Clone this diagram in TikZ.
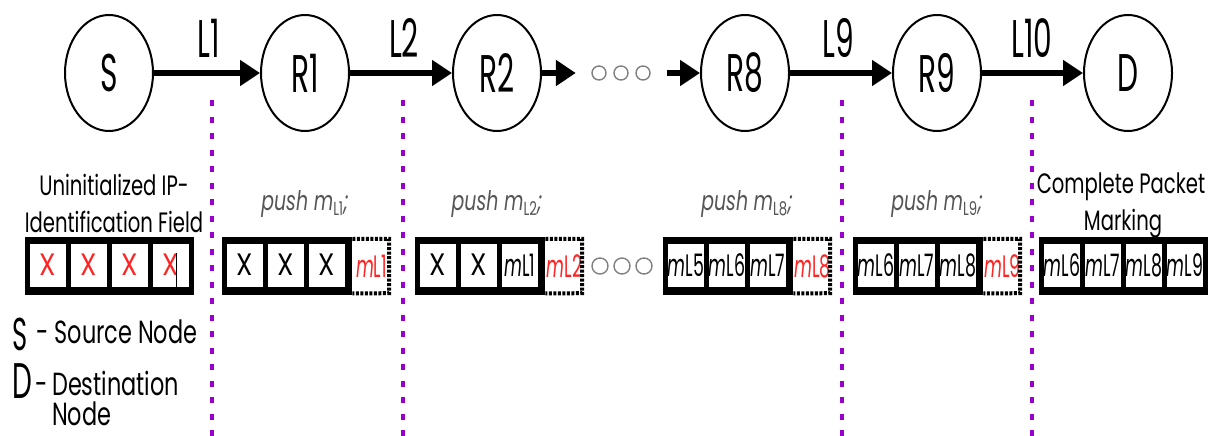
\documentclass[tikz,border=0pt]{standalone}
\usepackage{fontspec}
\setmainfont{Poppins}[FakeStretch=0.7]
\newfontfamily\condfont{Poppins}[FakeStretch=0.56]
\newfontfamily\crossfont{Poppins}[FakeStretch=0.85]
\usetikzlibrary{arrows.meta,shapes.geometric}
\definecolor{hopviolet}{RGB}{153,0,204}
\definecolor{markred}{RGB}{255,35,35}
\definecolor{pushgray}{RGB}{85,85,85}
\newcommand\mlab[1]{\textit{m}L#1}
\newcommand\pushm[1]{{\itshape push m}\textsubscript{L#1}{\itshape ;}}
\begin{document}
\begin{tikzpicture}[x=1pt,y=-1pt,
  router/.style={ellipse, draw, line width=2pt, minimum width=88pt,
    minimum height=116pt, inner sep=0pt, font=\fontsize{53}{53}\condfont},
  link/.style={line width=6pt, -{Triangle[length=20pt,width=25pt]}},
  linklabel/.style={anchor=base, inner sep=0pt, font=\fontsize{53}{53}\condfont},
  hop/.style={hopviolet, line width=4pt, dash pattern=on 6pt off 10.5pt},
  frame/.style={fill=black, inner sep=0pt, minimum height=58pt, anchor=north west},
  cell/.style={fill=white, inner sep=0pt, minimum width=36.5pt,
    minimum height=43pt, anchor=west, font=\fontsize{31}{31}\condfont},
  xcell/.style={cell, font=\fontsize{31}{31}\crossfont},
  slot/.style={inner sep=0pt, minimum width=39pt, minimum height=58pt,
    font=\fontsize{31}{31}\condfont, text=markred},
  slotedge/.style={line width=4pt, dash pattern=on 3pt off 1.5pt},
  ring/.style={draw=gray, line width=1.4pt},
  caption/.style={anchor=base, inner sep=0pt, font=\fontsize{28}{28}\selectfont},
  pushlabel/.style={anchor=base, inner sep=0pt, text=pushgray,
    font=\fontsize{27}{27}\selectfont},
  legend/.style={anchor=base west, inner sep=0pt, font=\fontsize{32}{32}\selectfont}]
\useasboundingbox (0,0) rectangle (1220,436);

% path of routers
\node[router] (S)  at (109,73)  {S};
\node[router] (R1) at (305,73)  {R1};
\node[router] (R2) at (497,73)  {R2};
\node[router] (R8) at (745,73)  {R8};
\node[router] (R9) at (937,73)  {R9};
\node[router] (D)  at (1128,73) {D};
\node[inner sep=0pt, minimum width=60pt, minimum height=16pt] (gap) at (621,73) {};
\foreach \dx in {-22,0,22} \draw[ring] ([xshift=\dx pt]gap.center) circle (7pt);

\draw[link] (S) -- (R1);
\draw[link] (R1) -- (R2);
\draw[link, shorten >=15pt] (R2) -- (gap.west);
\draw[link, shorten <=16pt] (gap.east) -- (R8);
\draw[link] (R8) -- (R9);
\draw[link] (R9) -- (D);

\node[linklabel] (l1)  at (209,57)  {L1};
\node[linklabel] (l2)  at (404,57)  {L2};
\node[linklabel] (l9)  at (838,57)  {L9};
\node[linklabel] (l10) at (1032,57) {L10};

% hop boundaries
\foreach \x/\n in {212/h1, 403/h2, 842/h9, 1032/h10} {
  \coordinate (\n top) at (\x,100);
  \coordinate (\n bot) at (\x,436);
  \draw[hop] (\n top) -- (\n bot);
}

% captions
\node[caption] (cap1a) at (114,195) {Uninitialized IP-};
\node[caption] (cap1b) at (114,232) {Identification Field};
\node[pushlabel] (p1) at (305,210) {\pushm{1}};
\node[pushlabel] (p2) at (497,210) {\pushm{2}};
\node[pushlabel] (p8) at (747,210) {\pushm{8}};
\node[pushlabel] (p9) at (937,210) {\pushm{9}};
\node[caption] (cap6a) at (1121,193) {Complete Packet};
\node[caption] (cap6b) at (1123,230) {Marking};

% identification fields
\node[frame, minimum width=169pt] (g1) at (25,237) {};
\foreach \t [count=\i] in {X,X,X,X}
  \node[xcell, text=markred] (g1c\i) at ({29.5+41*(\i-1)},265) {\t};
\draw[line width=0.8pt] (g1c4.center) ++(5,-12) coordinate (cur) -- ++(0,35);

\foreach \g/\x/\sa/\a/\sb/\b/\sc/\c/\s in {
    g2/222/xcell/X/xcell/X/xcell/X/1,
    g3/415/xcell/X/xcell/X/cell/\mlab{1}/2,
    g4/663/cell/\mlab{5}/cell/\mlab{6}/cell/\mlab{7}/8,
    g5/853/cell/\mlab{6}/cell/\mlab{7}/cell/\mlab{8}/9} {
  \node[frame, minimum width=130pt] (\g) at (\x,237) {};
  \node[\sa] (\g c1) at (\x+4.5,265) {\a};
  \node[\sb] (\g c2) at (\x+45.5,265) {\b};
  \node[\sc] (\g c3) at (\x+86.5,265) {\c};
  \node[slot] (\g s) at (\x+149.5,266) {\mlab{\s}};
  \draw[slotedge] ([yshift=-2pt]\g.north east) -- ([shift={(-2,2)}]\g s.north east)
    -- ([shift={(-2,-2)}]\g s.south east) -- ([yshift=2pt]\g.south east);
}

\node[frame, minimum width=169pt] (g6) at (1039,237) {};
\foreach \s [count=\i] in {6,7,8,9}
  \node[cell] (g6c\i) at ({1043.5+41*(\i-1)},265) {\mlab{\s}};

% gaps between fields
\node[inner sep=0pt, minimum width=60pt, minimum height=16pt] (gap2) at (622,266) {};
\foreach \dx in {-22,0,22} \draw[ring] ([xshift=\dx pt]gap2.center) circle (8pt);

% legend
\node[legend, font=\fontsize{46}{46}\condfont] (keyS) at (12,350) {S};
\node[legend] (keySt) at (36,343) {- Source Node};
\node[legend, font=\fontsize{50}{50}\condfont] (keyD) at (12,398) {D};
\node[legend] (keyDash) at (35,395) {-};
\node[legend] (keyDt) at (52,395) {Destination};
\node[legend] (keyDt2) at (52,425) {Node};
\end{tikzpicture}
\end{document}
